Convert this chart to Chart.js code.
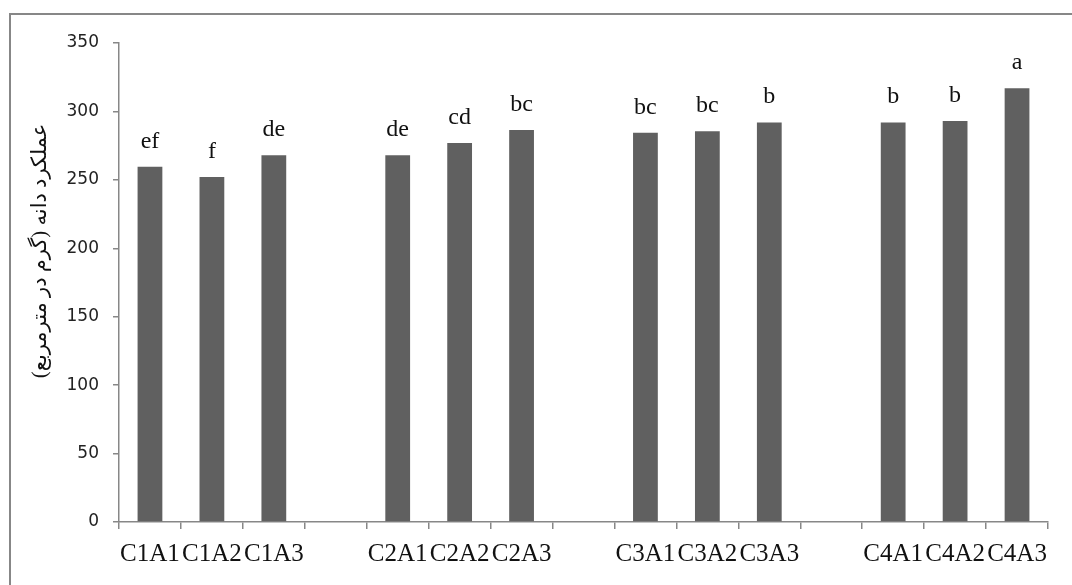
<!DOCTYPE html>
<html>
<head>
<meta charset="utf-8">
<script src="https://cdn.jsdelivr.net/npm/chart.js@4"></script>
<style>
    html, body { margin: 0; padding: 0; background: #fff; overflow: hidden; }
    #wrap { position: relative; width: 1072px; height: 585px; }
    #frame {
        position: absolute; left: 9px; top: 13px; width: 1100px; height: 620px;
        border: 2px solid #878787; box-sizing: border-box; pointer-events: none;
    }
    canvas { position: absolute; left: 0; top: 0; }
</style>
</head>
<body>
<div id="wrap">
    <canvas id="yieldChart" width="1072" height="585"></canvas>
    <div id="frame"></div>
</div>
<script>
// categories ('' = spacer between groups)
const categories = [
    'C1A1', 'C1A2', 'C1A3', '',
    'C2A1', 'C2A2', 'C2A3', '',
    'C3A1', 'C3A2', 'C3A3', '',
    'C4A1', 'C4A2', 'C4A3'
];

// grain yield (g/m2)
const yieldValues = [
    259.5, 252, 268, null,
    268, 277, 286.5, null,
    284.5, 285.5, 292, null,
    292, 293, 317
];

// mean comparison letters
const letters = [
    'ef', 'f', 'de', '',
    'de', 'cd', 'bc', '',
    'bc', 'bc', 'b', '',
    'b', 'b', 'a'
];

const yTicks = [0, 50, 100, 150, 200, 250, 300, 350];
const yTitle = 'عملکرد دانه (گرم در مترمربع)';

const axisColor = '#878787';

// letters above bars + rotated y title
const labelsPlugin = {
    id: 'barLetters',
    afterDatasetsDraw(chart) {
        const ctx = chart.ctx;
        const meta = chart.getDatasetMeta(0);
        ctx.save();
        ctx.fillStyle = '#111';
        ctx.font = '24px "Liberation Serif", "Times New Roman", serif';
        ctx.textAlign = 'center';
        ctx.textBaseline = 'alphabetic';
        meta.data.forEach((bar, i) => {
            if (!letters[i] || yieldValues[i] == null) return;
            ctx.fillText(letters[i], bar.x, bar.y - 19);
        });
        ctx.restore();

        ctx.save();
        ctx.translate(40, 251);
        ctx.rotate(-Math.PI / 2);
        ctx.fillStyle = '#111';
        ctx.font = '21px "Liberation Serif", "DejaVu Sans", serif';
        ctx.textAlign = 'center';
        ctx.textBaseline = 'middle';
        ctx.fillText(yTitle, 0, 0);
        ctx.restore();
    }
};

const ctx = document.getElementById('yieldChart').getContext('2d');

new Chart(ctx, {
    type: 'bar',
    data: {
        labels: categories,
        datasets: [{
            data: yieldValues,
            backgroundColor: '#606060',
            borderWidth: 0,
            barPercentage: 0.4,
            categoryPercentage: 1
        }]
    },
    options: {
        responsive: false,
        animation: false,
        layout: {
            padding: { top: 43, right: 24, left: 0, bottom: 0 }
        },
        plugins: {
            legend: { display: false },
            tooltip: { enabled: false }
        },
        scales: {
            x: {
                grid: {
                    display: true,
                    drawOnChartArea: false,
                    drawTicks: true,
                    tickLength: 7,
                    color: axisColor,
                    lineWidth: 1.5,
                    offset: true
                },
                border: { color: axisColor, width: 1.5 },
                ticks: {
                    autoSkip: false,
                    maxRotation: 0,
                    minRotation: 0,
                    padding: 10,
                    color: '#111',
                    font: { family: '"Liberation Serif", "Times New Roman", serif', size: 25 }
                },
                afterFit(scale) { scale.height = 63; }
            },
            y: {
                min: 0,
                max: 350,
                afterBuildTicks(scale) {
                    scale.ticks = yTicks.map(v => ({ value: v }));
                },
                grid: {
                    display: true,
                    drawOnChartArea: false,
                    drawTicks: true,
                    tickLength: 6,
                    color: axisColor,
                    lineWidth: 1.5
                },
                border: { color: axisColor, width: 1.5 },
                ticks: {
                    padding: 14,
                    color: '#222',
                    font: { family: '"DejaVu Sans", Verdana, sans-serif', size: 17 }
                },
                afterFit(scale) { scale.width = 119; }
            }
        }
    },
    plugins: [labelsPlugin]
});
</script>
</body>
</html>
